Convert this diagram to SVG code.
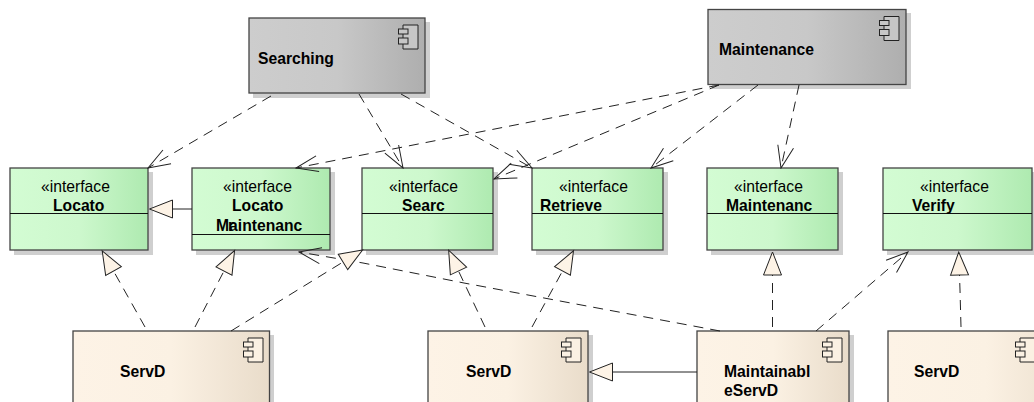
<svg xmlns="http://www.w3.org/2000/svg" width="1034" height="402" viewBox="0 0 1034 402">
<style>
text{font-family:"Liberation Sans",Arial,sans-serif;font-size:15.7px;fill:#000}
.b{font-weight:bold}
.s{fill:#cfcfcf;stroke:none}
.n{stroke:#444;stroke-width:1.3}
.d{stroke:#111;stroke-width:1}
.c{fill:none;stroke:#222;stroke-width:1}
.dash{stroke-dasharray:10 7}
.ic{stroke:#222;stroke-width:1}
.fg{fill:#c6c6c6}.ft{fill:#fbf1e3}
.g{fill:url(#gg)}.i{fill:url(#gi)}.t{fill:url(#gt)}
</style>
<defs>
<linearGradient id="gg"><stop offset="0" stop-color="#cdcdcd"/><stop offset=".5" stop-color="#c8c8c8"/><stop offset="1" stop-color="#aeaeae"/></linearGradient>
<linearGradient id="gi"><stop offset="0" stop-color="#d3fcd3"/><stop offset=".5" stop-color="#cdf8cd"/><stop offset="1" stop-color="#aeeab0"/></linearGradient>
<linearGradient id="gt"><stop offset="0" stop-color="#fdf3e6"/><stop offset=".5" stop-color="#fbf1e3"/><stop offset="1" stop-color="#e9dcca"/></linearGradient>
<marker id="open" markerUnits="userSpaceOnUse" markerWidth="26" markerHeight="20" viewBox="-25 -10 26 20" refX="0" refY="0" orient="auto"><path d="M-22,-8L0,0L-22,8" fill="none" stroke="#222" stroke-width="1"/></marker>
<marker id="tri" markerUnits="userSpaceOnUse" markerWidth="27" markerHeight="22" viewBox="-1 -11 27 22" refX="0" refY="0" orient="auto"><path d="M0,-9L23,0L0,9Z" fill="#fdf3e6" stroke="#222" stroke-width="1"/></marker>
</defs>
<g id="searching"><rect class="s" x="253" y="22" width="177" height="76"/><rect class="n g" x="249" y="18" width="176" height="75"/><path class="ic fg" d="M403,25H418V49H403Z"/><rect class="ic fg" x="398.500" y="29" width="9.500" height="5"/><rect class="ic fg" x="398.500" y="38" width="9.500" height="6"/><text class="b" x="258" y="64">Searching</text></g>
<g id="maintenance"><rect class="s" x="712" y="13" width="199" height="76"/><rect class="n g" x="708" y="9.500" width="198" height="75"/><path class="ic fg" d="M884,16.500H899V40.500H884Z"/><rect class="ic fg" x="879.500" y="20.500" width="9.500" height="5"/><rect class="ic fg" x="879.500" y="29.500" width="9.500" height="6"/><text class="b" x="719" y="55">Maintenance</text></g>
<g id="i-locato"><rect class="s" x="14" y="172" width="139" height="83"/><rect class="n i" x="10" y="168" width="138" height="82"/><path class="d" d="M10,213.500H148"/><text x="41" y="192">«interface</text><text class="b" x="53" y="211">Locato</text></g>
<g id="i-locator-maint"><rect class="s" x="196" y="172" width="139" height="83"/><rect class="n i" x="192" y="168" width="138" height="82"/><path class="d" d="M192,234.500H330"/><text x="223" y="192">«interface</text><text class="b" x="232" y="211">Locato</text><text class="b" x="228" y="231">r</text><text class="b" x="216" y="231">Maintenanc</text></g>
<g id="i-searc"><rect class="s" x="366" y="172" width="132" height="83"/><rect class="n i" x="362" y="168" width="131" height="82"/><path class="d" d="M362,213.500H493"/><text x="389" y="192">«interface</text><text class="b" x="402" y="211">Searc</text></g>
<g id="i-retrieve"><rect class="s" x="536" y="172" width="132" height="83"/><rect class="n i" x="532" y="168" width="131" height="82"/><path class="d" d="M532,213.500H663"/><text x="559" y="192">«interface</text><text class="b" x="540" y="211">Retrieve</text></g>
<g id="i-maintenanc"><rect class="s" x="711" y="172" width="132" height="83"/><rect class="n i" x="707" y="168" width="131" height="82"/><path class="d" d="M707,213.500H838"/><text x="734" y="192">«interface</text><text class="b" x="726" y="211">Maintenanc</text></g>
<g id="i-verify"><rect class="s" x="887" y="172" width="150" height="83"/><rect class="n i" x="883" y="168" width="149" height="82"/><path class="d" d="M883,213.500H1032"/><text x="920" y="192">«interface</text><text class="b" x="912" y="211">Verify</text></g>
<g id="servd1"><rect class="s" x="77" y="335" width="197" height="80"/><rect class="n t" x="73" y="331" width="196.500" height="80"/><path class="ic ft" d="M248,338H263V362H248Z"/><rect class="ic ft" x="243.500" y="342" width="9.500" height="5"/><rect class="ic ft" x="243.500" y="351" width="9.500" height="6"/><text class="b" x="120" y="377">ServD</text></g>
<g id="servd2"><rect class="s" x="432" y="335" width="161" height="80"/><rect class="n t" x="428" y="331" width="160" height="80"/><path class="ic ft" d="M566,338H581V362H566Z"/><rect class="ic ft" x="561.500" y="342" width="9.500" height="5"/><rect class="ic ft" x="561.500" y="351" width="9.500" height="6"/><text class="b" x="466" y="377">ServD</text></g>
<g id="maintainable"><rect class="s" x="701" y="335" width="153" height="80"/><rect class="n t" x="697" y="331" width="152" height="80"/><path class="ic ft" d="M827,338H842V362H827Z"/><rect class="ic ft" x="822.500" y="342" width="9.500" height="5"/><rect class="ic ft" x="822.500" y="351" width="9.500" height="6"/><text class="b" x="724" y="377">Maintainabl</text><text class="b" x="724" y="396">eServD</text></g>
<g id="servd3"><rect class="s" x="892" y="335" width="200" height="80"/><rect class="n t" x="888" y="331" width="196" height="80"/><path class="ic ft" d="M1020,338H1035V362H1020Z"/><rect class="ic ft" x="1015.500" y="342" width="9.500" height="5"/><rect class="ic ft" x="1015.500" y="351" width="9.500" height="6"/><text class="b" x="914" y="377">ServD</text></g>
<g id="connectors">
<path class="c dash" marker-end="url(#open)" d="M271,96L148,168"/>
<path class="c dash" marker-end="url(#open)" d="M359,94L403,168"/>
<path class="c dash" marker-end="url(#open)" d="M401,94L532,168"/>
<path class="c dash" marker-end="url(#open)" d="M719,85L296,168"/>
<path class="c dash" marker-end="url(#open)" d="M719,85L494,179"/>
<path class="c dash" marker-end="url(#open)" d="M758,85L651,168"/>
<path class="c dash" marker-end="url(#open)" d="M799,85L781,168"/>
<path class="c dash" marker-end="url(#open)" d="M720,331L464,283L363,263L299,252"/>
<path class="c dash" marker-end="url(#open)" d="M816,331L908,252"/>
<path class="c dash" marker-end="url(#tri)" d="M145,327L113.500,271"/>
<path class="c dash" marker-end="url(#tri)" d="M195,327L224,271"/>
<path class="c dash" marker-end="url(#tri)" d="M231,331L343,262"/>
<path class="c dash" marker-end="url(#tri)" d="M485,327L458.500,271"/>
<path class="c dash" marker-end="url(#tri)" d="M532,327L562.500,271"/>
<path class="c dash" marker-end="url(#tri)" d="M772.500,327V275"/>
<path class="c dash" marker-end="url(#tri)" d="M961,327L960,290L959.500,275"/>
<path class="c" marker-end="url(#tri)" d="M192,209H172.500"/>
<path class="c" marker-end="url(#tri)" d="M697,372H612.500"/>
</g>
</svg>
